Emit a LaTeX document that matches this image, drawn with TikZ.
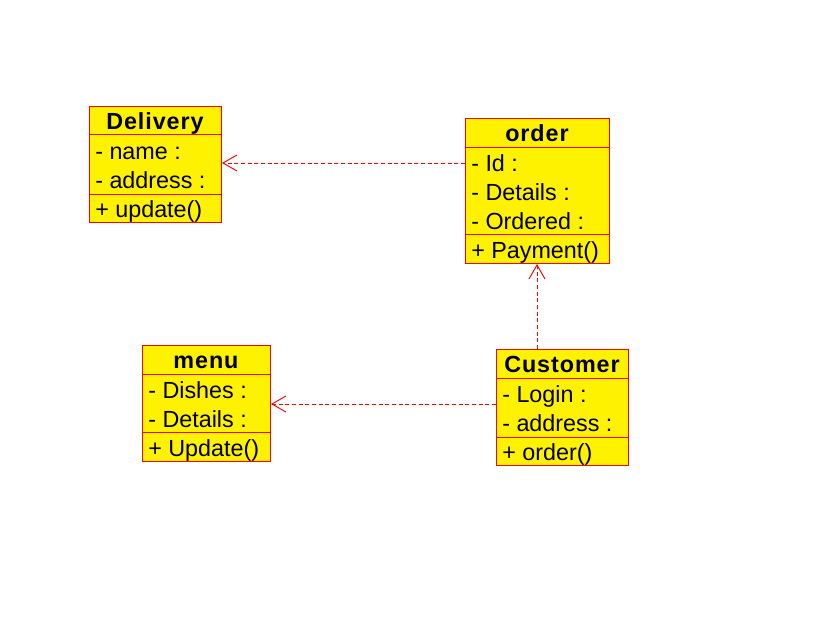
\documentclass[tikz,border=0pt]{standalone}
\usepackage{fontspec}
\setmainfont{Liberation Sans}
\usetikzlibrary{arrows.meta}
\begin{document}
\begin{tikzpicture}[x=0.75pt,y=-0.75pt,
  box/.style={draw=red, fill=yellow, line width=0.75pt, inner sep=0pt, anchor=north west},
  divider/.style={draw=red, line width=0.75pt},
  txt/.style={anchor=west, inner sep=0pt, text height=12pt, text depth=3.5pt, font=\fontsize{17.5}{20}\selectfont},
  hdr/.style={anchor=center, inner sep=0pt, text height=12pt, text depth=3.5pt, font=\fontsize{17.5}{20}\selectfont\bfseries\addfontfeature{LetterSpace=4}},
  dep/.style={draw=red, dash pattern=on 3pt off 2pt, line width=0.7pt, -{Straight Barb[length=10.5pt,width=12pt]}}]
\useasboundingbox (0,0) rectangle (826,622);

% Delivery
\node[box, minimum width=99pt, minimum height=87pt] (Delivery) at (89,106) {};
\draw[divider] (Delivery.west |- 0,134) -- (Delivery.east |- 0,134);
\draw[divider] (Delivery.west |- 0,194) -- (Delivery.east |- 0,194);
\node[hdr] (DeliveryT) at (155,124) {Delivery};
\node[txt] (DeliveryA1) at (95,154) {- name :};
\node[txt] (DeliveryA2) at (95,183) {- address :};
\node[txt] (DeliveryM1) at (95,212) {+ update()};

% order
\node[box, minimum width=108pt, minimum height=108.75pt] (order) at (465,118) {};
\draw[divider] (order.west |- 0,147) -- (order.east |- 0,147);
\draw[divider] (order.west |- 0,234) -- (order.east |- 0,234);
\node[hdr] (orderT) at (537,136) {order};
\node[txt] (orderA1) at (471,166) {- Id :};
\node[txt] (orderA2) at (471,195) {- Details :};
\node[txt] (orderA3) at (471,224) {- Ordered :};
\node[txt] (orderM1) at (471,253) {+ Payment()};

% menu
\node[box, minimum width=96pt, minimum height=87pt] (menu) at (142,345) {};
\draw[divider] (menu.west |- 0,374) -- (menu.east |- 0,374);
\draw[divider] (menu.west |- 0,432) -- (menu.east |- 0,432);
\node[hdr] (menuT) at (206,363) {menu};
\node[txt] (menuA1) at (148,393) {- Dishes :};
\node[txt] (menuA2) at (148,422) {- Details :};
\node[txt] (menuM1) at (148,451) {+ Update()};

% Customer
\node[box, minimum width=99pt, minimum height=87pt] (Customer) at (496,349) {};
\draw[divider] (Customer.west |- 0,378) -- (Customer.east |- 0,378);
\draw[divider] (Customer.west |- 0,437) -- (Customer.east |- 0,437);
\node[hdr] (CustomerT) at (562,367) {Customer};
\node[txt] (CustomerA1) at (502,397) {- Login :};
\node[txt] (CustomerA2) at (502,426) {- address :};
\node[txt] (CustomerM1) at (502,455) {+ order()};

% dependencies
\draw[dep] (order.west |- 0,163) -- (Delivery.east |- 0,163);
\draw[dep] (Customer.north -| 537,0) -- (order.south -| 537,0);
\draw[dep] (Customer.west |- 0,404) -- (menu.east |- 0,404);
\end{tikzpicture}
\end{document}
